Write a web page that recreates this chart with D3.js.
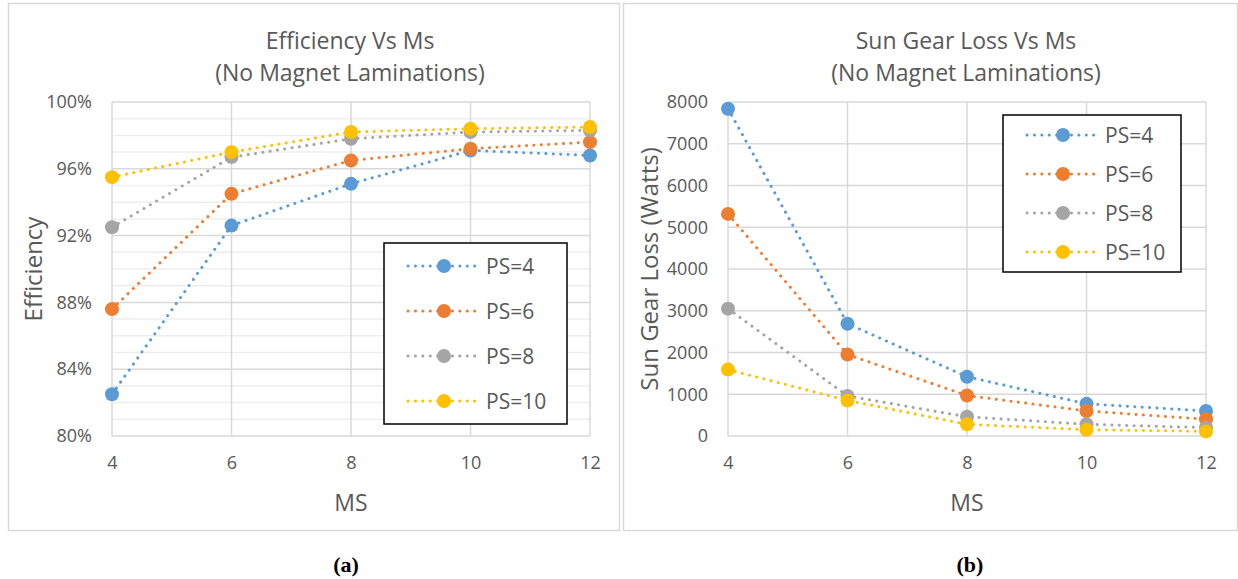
<!DOCTYPE html>
<html><head><meta charset="utf-8">
<script src="https://cdn.jsdelivr.net/npm/d3@7"></script>
<style>body{margin:0;background:#fff;} text{font-family:"Open Sans",sans-serif;fill:#595959;}</style>
</head><body>
<svg id="c" width="1238" height="579"></svg>
<script>
const msValues = [4, 6, 8, 10, 12];
const seriesNames = ["PS=4", "PS=6", "PS=8", "PS=10"];
const seriesColors = ["#5B9BD5", "#ED7D31", "#A5A5A5", "#FFC000"];
// Efficiency (fraction)
const effPS4 = [0.825, 0.926, 0.951, 0.971, 0.968];
const effPS6 = [0.876, 0.945, 0.965, 0.972, 0.976];
const effPS8 = [0.925, 0.967, 0.978, 0.982, 0.983];
const effPS10 = [0.955, 0.970, 0.982, 0.984, 0.985];
// Sun gear loss (W)
const lossPS4 = [7840, 2690, 1420, 770, 600];
const lossPS6 = [5320, 1950, 970, 600, 400];
const lossPS8 = [3050, 960, 460, 280, 200];
const lossPS10 = [1590, 850, 280, 150, 110];
const effTicks = [0.80, 0.84, 0.88, 0.92, 0.96, 1.00];
const lossTicks = [0, 1000, 2000, 3000, 4000, 5000, 6000, 7000, 8000];

const svg = d3.select("#c");

function panel(cfg) {
  const g = svg.append("g");
  g.append("rect").attr("x", cfg.fx).attr("y", 3.5).attr("width", cfg.fw).attr("height", 527)
    .attr("fill", "#fff").attr("stroke", "#d9d9d9").attr("stroke-width", 1.5);
  const x = d3.scaleLinear().domain([4, 12]).range(cfg.xr);
  const y = d3.scaleLinear().domain(cfg.yd).range([436, 102]);
  if (cfg.minor) {
    g.selectAll(".mg").data(cfg.minor).join("line")
      .attr("x1", cfg.xr[0]).attr("x2", cfg.xr[1]).attr("y1", d => y(d)).attr("y2", d => y(d))
      .attr("stroke", "#eeeeee").attr("stroke-width", 1.5);
  }
  g.selectAll(".hg").data(cfg.ticks).join("line")
    .attr("x1", cfg.xr[0]).attr("x2", cfg.xr[1]).attr("y1", d => y(d)).attr("y2", d => y(d))
    .attr("stroke", "#d9d9d9").attr("stroke-width", 1.5);
  g.selectAll(".vg").data(msValues).join("line")
    .attr("x1", d => x(d)).attr("x2", d => x(d)).attr("y1", 102).attr("y2", 436)
    .attr("stroke", "#d9d9d9").attr("stroke-width", 1.5);
  const ya = d3.axisLeft(y).tickValues(cfg.ticks).tickFormat(cfg.fmt).tickSize(0).tickPadding(20);
  const ga = g.append("g").attr("transform", `translate(${cfg.xr[0]},0)`).call(ya);
  ga.select(".domain").remove();
  ga.selectAll("text").attr("font-size", 18).attr("font-family", "Open Sans").attr("fill", "#595959");
  const xa = d3.axisBottom(x).tickValues(msValues).tickFormat(d3.format("d")).tickSize(0).tickPadding(20);
  const gx = g.append("g").attr("transform", `translate(0,436)`).call(xa);
  gx.select(".domain").remove();
  gx.selectAll("text").attr("font-size", 18).attr("font-family", "Open Sans").attr("fill", "#595959");
  const cx = cfg.titleX;
  g.append("text").attr("x", cx).attr("y", 49).attr("text-anchor", "middle").attr("font-size", 23).text(cfg.title);
  g.append("text").attr("x", cx).attr("y", 81).attr("text-anchor", "middle").attr("font-size", 23).text("(No Magnet Laminations)");
  g.append("text").attr("transform", `translate(${cfg.ytX},269) rotate(-90)`).attr("text-anchor", "middle")
    .attr("dominant-baseline", "central").attr("font-size", 24).text(cfg.ytitle);
  g.append("text").attr("x", x(8)).attr("y", 502).attr("text-anchor", "middle")
    .attr("dominant-baseline", "central").attr("font-size", 23).text("MS");
  const line = d3.line().x((d, i) => x(msValues[i])).y(d => y(d));
  cfg.series.forEach((s, k) => {
    g.append("path").attr("d", line(s)).attr("fill", "none").attr("stroke", seriesColors[k])
      .attr("stroke-width", 3).attr("stroke-linecap", "round").attr("stroke-dasharray", "0.1 7.3");
  });
  cfg.series.forEach((s, k) => {
    g.selectAll(null).data(s).join("circle").attr("cx", (d, i) => x(msValues[i])).attr("cy", d => y(d))
      .attr("r", 7).attr("fill", seriesColors[k]);
  });
  const L = cfg.leg;
  g.append("rect").attr("x", L.x).attr("y", L.y).attr("width", L.w).attr("height", L.h)
    .attr("fill", "#fff").attr("stroke", "#000").attr("stroke-width", 1.5);
  seriesNames.forEach((n, k) => {
    const yy = L.y0 + k * L.dy;
    const lx = L.x + 24;
    g.append("line").attr("x1", lx).attr("x2", lx + 70).attr("y1", yy).attr("y2", yy)
      .attr("stroke", seriesColors[k]).attr("stroke-width", 3).attr("stroke-linecap", "round").attr("stroke-dasharray", "0.1 7.3");
    g.append("circle").attr("cx", lx + 36).attr("cy", yy).attr("r", 7).attr("fill", seriesColors[k]);
    g.append("text").attr("x", lx + 78).attr("y", yy).attr("dominant-baseline", "central").attr("font-size", 21).text(n);
  });
}

panel({
  fx: 8.5, fw: 611, xr: [112, 590], yd: [0.80, 1.00], ticks: effTicks,
  minor: d3.range(81, 100).filter(v => v % 4 !== 0).map(v => v / 100),
  fmt: d3.format(".0%"), title: "Efficiency Vs Ms", titleX: 350, ytitle: "Efficiency", ytX: 32,
  series: [effPS4, effPS6, effPS8, effPS10],
  leg: {x: 384, y: 243, w: 183, h: 181, y0: 266, dy: 45}
});
panel({
  fx: 623.5, fw: 614, xr: [728, 1206], yd: [0, 8000], ticks: lossTicks, minor: null,
  fmt: d3.format("d"), title: "Sun Gear Loss Vs Ms", titleX: 966, ytitle: "Sun Gear Loss (Watts)", ytX: 648,
  series: [lossPS4, lossPS6, lossPS8, lossPS10],
  leg: {x: 1003, y: 115, w: 178, h: 157, y0: 135, dy: 39}
});
svg.append("text").attr("x", 346).attr("y", 572).attr("text-anchor", "middle")
  .style("font-family", "'Liberation Serif','Times New Roman',serif").style("font-weight", "bold").style("fill", "#000")
  .attr("font-size", 22).text("(a)");
svg.append("text").attr("x", 970).attr("y", 572).attr("text-anchor", "middle")
  .style("font-family", "'Liberation Serif','Times New Roman',serif").style("font-weight", "bold").style("fill", "#000")
  .attr("font-size", 22).text("(b)");
</script>
</body></html>
